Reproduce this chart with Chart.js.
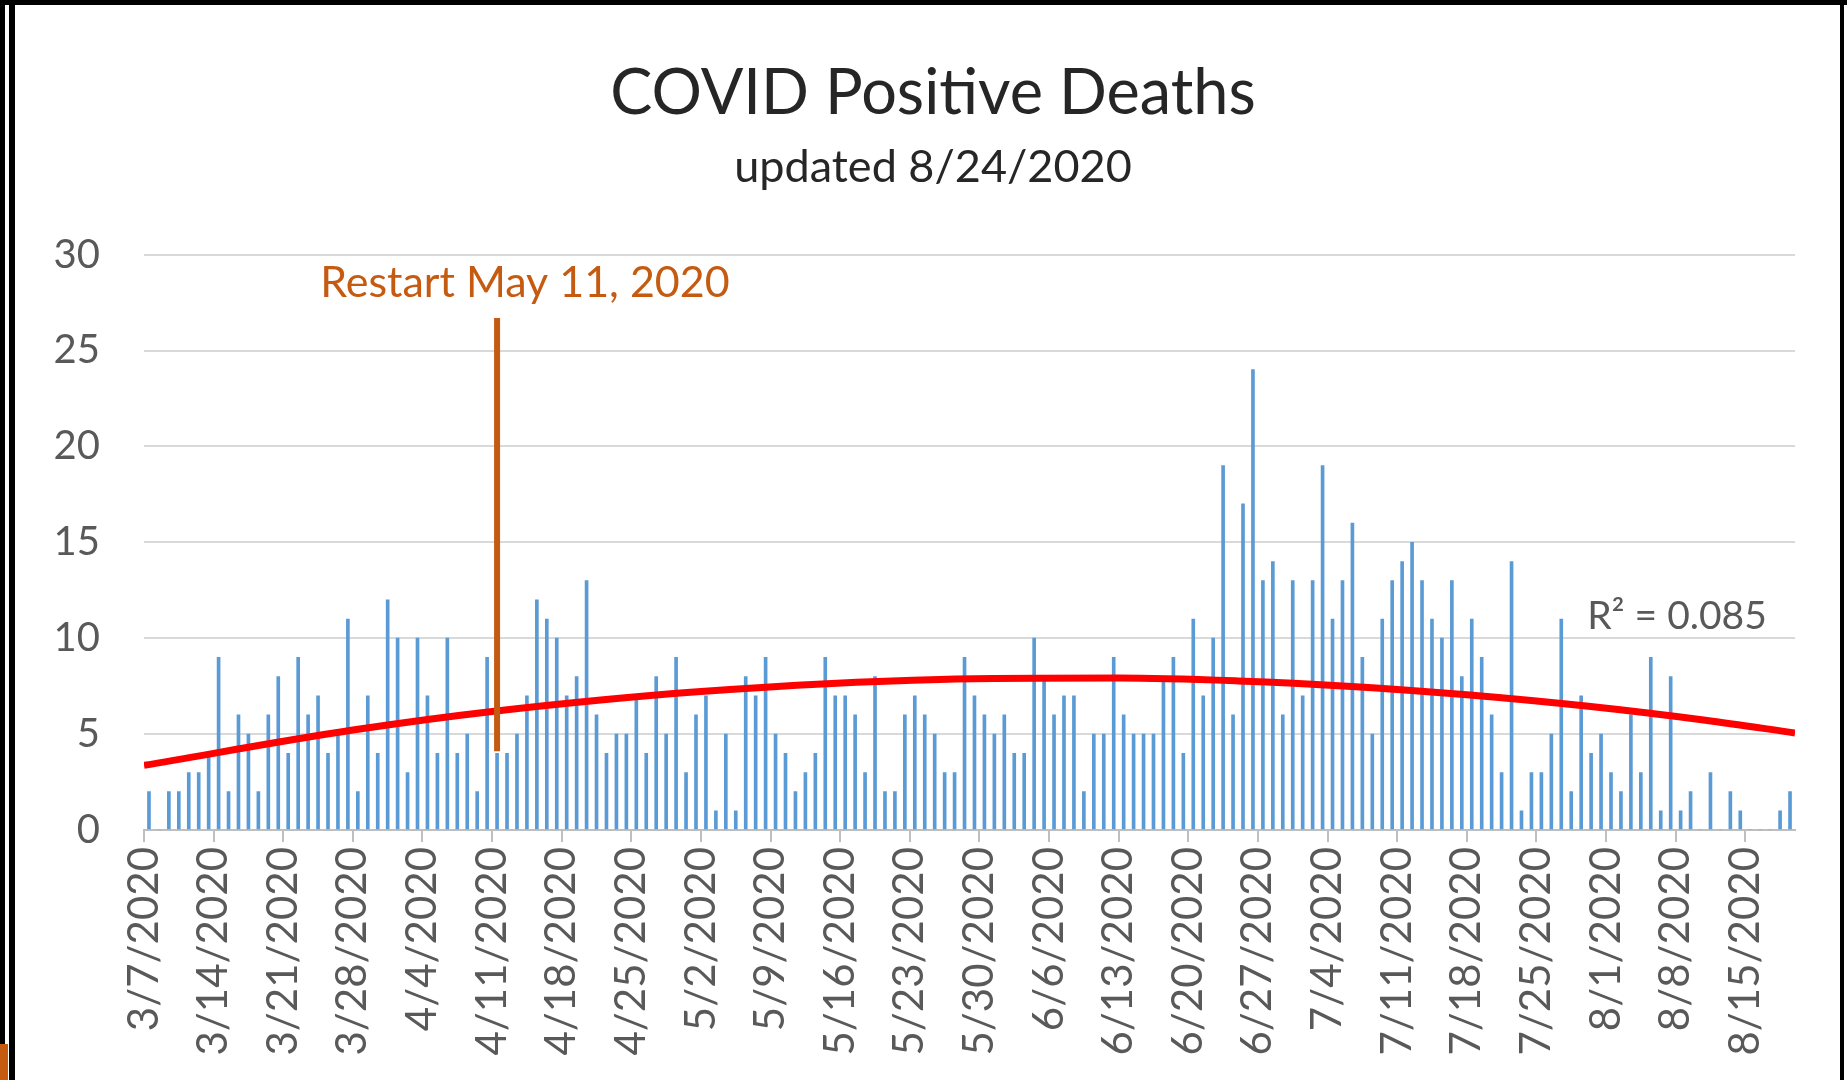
<!DOCTYPE html>
<html>
<head>
<meta charset="utf-8">
<script src="https://cdn.jsdelivr.net/npm/chart.js@4/dist/chart.umd.min.js"></script>
<style>
    html, body { margin: 0; padding: 0; background: #fff; }
    #wrap { position: relative; width: 1847px; height: 1080px; overflow: hidden; }
    #chart { position: absolute; left: 0; top: 0; }
    .frame { position: absolute; background: #000; }
</style>
</head>
<body>
<div id="wrap">
    <canvas id="chart" width="1847" height="1080"></canvas>
    <div class="frame" style="left:0;top:0;width:5px;height:1080px"></div>
    <div class="frame" style="left:9px;top:0;width:6px;height:1080px"></div>
    <div class="frame" style="left:0;top:0;width:1847px;height:5px"></div>
    <div class="frame" style="left:1840px;top:0;width:4px;height:1080px"></div>
    <div style="position:absolute;left:0;top:1044px;width:8px;height:36px;background:#c55a11"></div>
</div>
<script>
// one label every 7 days, starting 3/7/2020
const tickLabels = ['3/7/2020', '3/14/2020', '3/21/2020', '3/28/2020', '4/4/2020', '4/11/2020',
    '4/18/2020', '4/25/2020', '5/2/2020', '5/9/2020', '5/16/2020', '5/23/2020', '5/30/2020',
    '6/6/2020', '6/13/2020', '6/20/2020', '6/27/2020', '7/4/2020', '7/11/2020', '7/18/2020',
    '7/25/2020', '8/1/2020', '8/8/2020', '8/15/2020'];

// daily deaths, 3/7/2020 .. 8/19/2020
const deaths = [
    2, 0, 2, 2, 3, 3, 4, 9, 2, 6, 5, 2, 6, 8,
    4, 9, 6, 7, 4, 5, 11, 2, 7, 4, 12, 10, 3, 10,
    7, 4, 10, 4, 5, 2, 9, 4, 4, 5, 7, 12, 11, 10,
    7, 8, 13, 6, 4, 5, 5, 7, 4, 8, 5, 9, 3, 6,
    7, 1, 5, 1, 8, 7, 9, 5, 4, 2, 3, 4, 9, 7,
    7, 6, 3, 8, 2, 2, 6, 7, 6, 5, 3, 3, 9, 7,
    6, 5, 6, 4, 4, 10, 8, 6, 7, 7, 2, 5, 5, 9,
    6, 5, 5, 5, 8, 9, 4, 11, 7, 10, 19, 6, 17, 24,
    13, 14, 6, 13, 7, 13, 19, 11, 13, 16, 9, 5, 11, 13,
    14, 15, 13, 11, 10, 13, 8, 11, 9, 6, 3, 14, 1, 3,
    3, 5, 11, 2, 7, 4, 5, 3, 2, 6, 3, 9, 1, 8,
    1, 2, 0, 3, 0, 2, 1, 0, 0, 0, 1, 2
];

// polynomial trendline (day index -> value)
const trendDays = [0, 21, 35, 56, 80, 98, 110, 121, 133, 145, 157, 166];
const trendValues = [3.37, 5.21, 6.18, 7.22, 7.85, 7.92, 7.77, 7.5, 7.05, 6.46, 5.72, 5.06];

const restartDay = 35;
const restartRange = [4.1, 26.7];
const restartText = 'Restart May 11, 2020';
const rSquaredText = 'R² = 0.085';

const overlay = {
    id: 'overlay',
    afterDatasetsDraw(chart) {
        const { ctx, scales: { x, y } } = chart;
        ctx.save();
        const lx = x.getPixelForValue(restartDay + 0.5);
        ctx.strokeStyle = '#c55a11';
        ctx.lineWidth = 6;
        ctx.beginPath();
        ctx.moveTo(lx, y.getPixelForValue(restartRange[1]));
        ctx.lineTo(lx, y.getPixelForValue(restartRange[0]));
        ctx.stroke();

        ctx.fillStyle = '#c55a11';
        ctx.font = '43px Lato';
        ctx.textAlign = 'center';
        ctx.textBaseline = 'alphabetic';
        ctx.fillText(restartText, x.getPixelForValue(38.3), y.getPixelForValue(27.8));

        ctx.fillStyle = '#595959';
        ctx.font = '39px Lato';
        ctx.textAlign = 'left';
        ctx.fillText(rSquaredText, x.getPixelForValue(145.1), y.getPixelForValue(10.5));
        ctx.restore();
    }
};

new Chart(document.getElementById('chart'), {
    type: 'bar',
    data: {
        datasets: [{
            type: 'line',
            data: trendDays.map((d, i) => ({ x: d, y: trendValues[i] })),
            borderColor: '#ff0000',
            borderWidth: 7,
            pointRadius: 0,
            cubicInterpolationMode: 'monotone',
            order: 1
        }, {
            data: deaths.map((v, i) => ({ x: i + 0.5, y: v })),
            backgroundColor: '#5b9bd5',
            barThickness: 3,
            order: 2
        }]
    },
    options: {
        responsive: false,
        animation: false,
        layout: { padding: { left: 19, right: 0, top: 0, bottom: 0 } },
        scales: {
            x: {
                type: 'linear',
                offset: false,
                min: 0,
                max: deaths.length,
                grid: { offset: false, drawOnChartArea: false, drawTicks: true, tickLength: 12, color: '#bfbfbf', lineWidth: 2 },
                border: { display: true, color: '#bfbfbf', width: 2 },
                afterBuildTicks: (s) => { s.ticks = tickLabels.map((_, i) => ({ value: i * 7 })); },
                afterFit: (s) => { s.height = 250; },
                ticks: {
                    autoSkip: false,
                    minRotation: 90,
                    maxRotation: 90,
                    padding: 5,
                    color: '#595959',
                    font: { family: 'Lato', size: 42 },
                    callback: (v) => tickLabels[v / 7]
                }
            },
            y: {
                min: 0,
                max: 30,
                grid: { color: '#d9d9d9', lineWidth: 2, drawTicks: false },
                border: { display: false },
                afterFit: (s) => { s.width = 125; },
                ticks: {
                    stepSize: 5,
                    padding: 44,
                    color: '#595959',
                    font: { family: 'Lato', size: 40 }
                }
            },
            yRight: {
                position: 'right',
                display: true,
                grid: { display: false },
                border: { display: false },
                ticks: { display: false },
                afterFit: (s) => { s.width = 52; }
            }
        },
        plugins: {
            legend: { display: false },
            tooltip: { enabled: false },
            title: {
                display: true,
                text: 'COVID Positive Deaths',
                color: '#262626',
                font: { family: 'Lato', size: 63, weight: 'normal' },
                padding: { top: 56, bottom: 9 }
            },
            subtitle: {
                display: true,
                text: 'updated 8/24/2020',
                color: '#262626',
                font: { family: 'Lato', size: 45, weight: 'normal' },
                padding: { top: 0, bottom: 60 }
            }
        }
    },
    plugins: [overlay]
});
</script>
</body>
</html>
